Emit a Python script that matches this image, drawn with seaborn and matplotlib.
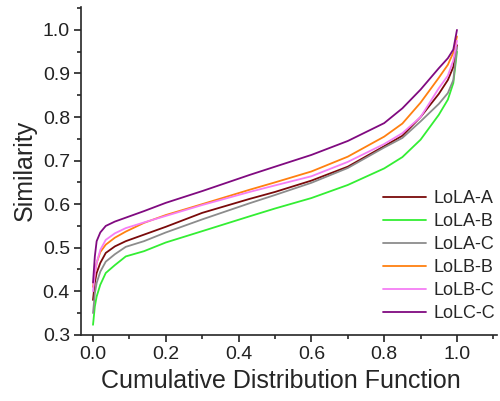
import numpy as np
import pandas as pd
import matplotlib
matplotlib.use("Agg")
import matplotlib.pyplot as plt
import seaborn as sns
from matplotlib.ticker import MultipleLocator

# cumulative fraction (x) and similarity values
cdf = [0, 0.005, 0.01, 0.02, 0.035, 0.06, 0.09, 0.14, 0.2, 0.3, 0.43,
       0.5, 0.6, 0.7, 0.8, 0.85, 0.9, 0.95, 0.975, 0.99, 1.0]

lola_a = [0.38, 0.42, 0.442, 0.465, 0.488, 0.503, 0.515, 0.53, 0.548, 0.58, 0.612,
          0.628, 0.654, 0.686, 0.733, 0.757, 0.80, 0.853, 0.885, 0.915, 0.965]
lola_b = [0.323, 0.365, 0.388, 0.415, 0.442, 0.46, 0.48, 0.492, 0.512, 0.538, 0.572,
          0.59, 0.614, 0.644, 0.682, 0.708, 0.748, 0.805, 0.84, 0.878, 0.95]
lola_c = [0.35, 0.395, 0.419, 0.445, 0.468, 0.485, 0.502, 0.515, 0.535, 0.565, 0.602,
          0.621, 0.649, 0.683, 0.73, 0.752, 0.79, 0.83, 0.855, 0.885, 0.96]
lolb_b = [0.41, 0.44, 0.465, 0.49, 0.507, 0.523, 0.537, 0.557, 0.575, 0.60, 0.633,
          0.65, 0.675, 0.709, 0.755, 0.785, 0.833, 0.89, 0.92, 0.948, 0.985]
lolb_c = [0.40, 0.44, 0.465, 0.495, 0.518, 0.533, 0.545, 0.558, 0.573, 0.598, 0.628,
          0.643, 0.664, 0.697, 0.738, 0.763, 0.80, 0.866, 0.895, 0.93, 0.975]
lolc_c = [0.42, 0.48, 0.515, 0.535, 0.55, 0.56, 0.569, 0.584, 0.603, 0.63, 0.667,
          0.686, 0.713, 0.745, 0.786, 0.82, 0.863, 0.912, 0.935, 0.955, 1.0]

series_names = ["LoLA-A", "LoLA-B", "LoLA-C", "LoLB-B", "LoLB-C", "LoLC-C"]
series_values = [lola_a, lola_b, lola_c, lolb_b, lolb_c, lolc_c]
colors = ["#7a0a0a", "#33ee33", "#8c8c8c", "#ff8010", "#f57ef5", "#800a80"]

rows = []
for name, vals in zip(series_names, series_values):
    for x, y in zip(cdf, vals):
        rows.append({"cdf": x, "similarity": y, "pair": name})
df = pd.DataFrame(rows)

sns.set_style("ticks")
plt.rcParams["font.family"] = ["Liberation Sans", "DejaVu Sans"]

fig = plt.figure(figsize=(5.0, 4.01), dpi=100)
ax = fig.add_axes([0.162, 0.165, 0.832, 0.818])

sns.lineplot(data=df, x="cdf", y="similarity", hue="pair", hue_order=series_names,
             palette=dict(zip(series_names, colors)), linewidth=1.3, ax=ax,
             estimator=None, sort=True)

ax.set_xlim(-0.033, 1.11)
ax.set_ylim(0.3, 1.053)
ax.xaxis.set_minor_locator(MultipleLocator(0.1))
ax.yaxis.set_minor_locator(MultipleLocator(0.05))
ax.set_xticks([0, 0.2, 0.4, 0.6, 0.8, 1.0])
ax.set_xticklabels(["0.0", "0.2", "0.4", "0.6", "0.8", "1.0"])
ax.set_yticks([0.3, 0.4, 0.5, 0.6, 0.7, 0.8, 0.9, 1.0])
ax.set_yticklabels(["0.3", "0.4", "0.5", "0.6", "0.7", "0.8", "0.9", "1.0"])
ax.tick_params(which="major", length=5, width=1.2, labelsize=14, colors="#222222", pad=3)
ax.tick_params(which="minor", length=3, width=1.2)
for s in ["left", "bottom"]:
    ax.spines[s].set_linewidth(1.2)
sns.despine(ax=ax)

ax.set_xlabel("Cumulative Distribution Function", fontsize=18, labelpad=1)
ax.set_ylabel("Similarity", fontsize=18, labelpad=4)
ax.xaxis.set_label_coords(0.48, -0.105)

ax.legend(loc="lower right", bbox_to_anchor=(1.025, 0.0), frameon=False, fontsize=13,
          handlelength=2.35, handletextpad=0.4, labelspacing=0.33, borderaxespad=0.3)

plt.savefig("out.png", dpi=100)
plt.close()
